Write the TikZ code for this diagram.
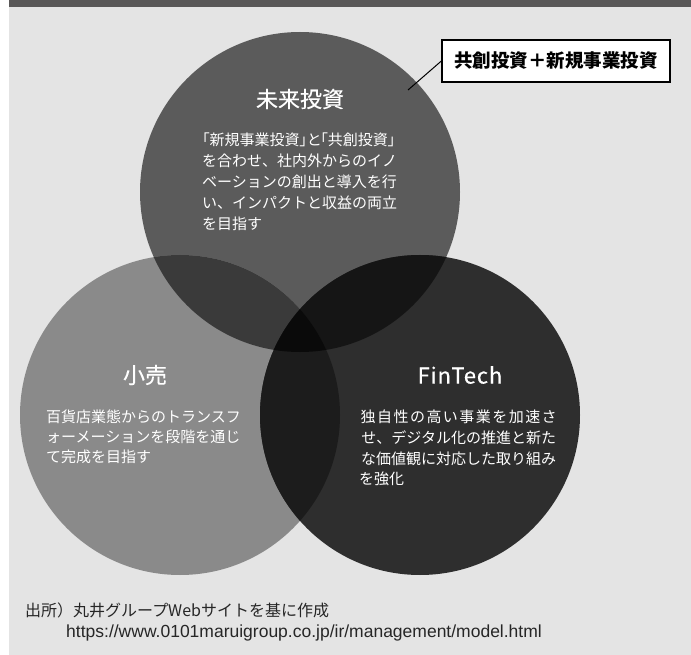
\documentclass[tikz,border=0pt]{standalone}
\usepackage{fontspec}
\newfontfamily\jp{Noto Sans CJK JP}
\newfontfamily\jpmed[FakeBold=0.4]{Noto Sans CJK JP}
\newfontfamily\srcfont{Liberation Sans}
\definecolor{bgcol}{HTML}{E4E4E4}
\definecolor{barcol}{HTML}{595757}
\definecolor{cTop}{HTML}{5B5B5B}
\definecolor{cLeft}{HTML}{8A8A8A}
\definecolor{cRight}{HTML}{2E2E2E}
\definecolor{cTL}{HTML}{3A3A3A}
\definecolor{cTR}{HTML}{151515}
\definecolor{cLR}{HTML}{1C1C1C}
\definecolor{cTLR}{HTML}{0A0A0A}
\tikzset{
  title/.style={inner sep=0pt, text=white, font=\jpmed\fontsize{22}{26}\selectfont},
  body/.style={inner sep=0pt, anchor=west, text=white, font=\jp\fontsize{15}{18}\selectfont},
  note/.style={inner sep=0pt, anchor=west, text=black!85, font=\jp\fontsize{16}{19}\selectfont},
  labelbox/.style={draw=black, line width=1.3pt, fill=white, inner sep=0pt, minimum width=228pt, minimum height=42pt, font=\jp\bfseries\fontsize{18.5}{22}\selectfont},
}
\begin{document}
\begin{tikzpicture}[x=1pt,y=-1pt]
\useasboundingbox (0,0) rectangle (691,655);
\fill[white] (0,0) rectangle (691,655);
\fill[bgcol] (9,0) rectangle (691,655);
\fill[barcol] (9,0) rectangle (691,7);
\coordinate (T) at (300,192);
\coordinate (L) at (180,415);
\coordinate (R) at (420,415);
\def\rad{160pt}
\fill[cTop] (T) circle[radius=\rad];
\fill[cLeft] (L) circle[radius=\rad];
\fill[cRight] (R) circle[radius=\rad];
\begin{scope}\clip (T) circle[radius=\rad]; \fill[cTL] (L) circle[radius=\rad];\end{scope}
\begin{scope}\clip (T) circle[radius=\rad]; \fill[cTR] (R) circle[radius=\rad];\end{scope}
\begin{scope}\clip (L) circle[radius=\rad]; \fill[cLR] (R) circle[radius=\rad];\end{scope}
\begin{scope}\clip (T) circle[radius=\rad]; \clip (L) circle[radius=\rad]; \fill[cTLR] (R) circle[radius=\rad];\end{scope}
% top circle text
\node[title] (ttop) at (300,99) {未来投資};
\node[body] (t1) at (202,140) {\addfontfeature{RawFeature=+palt}「新規事業投資」と「共創投資」};
\node[body] (t2) at (202,161) {を合わせ、社内外からのイノ};
\node[body] (t3) at (202,182) {ベーションの創出と導入を行};
\node[body] (t4) at (202,203) {い、インパクトと収益の両立};
\node[body] (t5) at (202,224) {を目指す};
% left circle text
\node[title] (tleft) at (145,375) {小売};
\node[body] (l1) at (46,417) {百貨店業態からのトランスフ};
\node[body] (l2) at (46,437) {ォーメーションを段階を通じ};
\node[body] (l3) at (46,457) {て完成を目指す};
% right circle text
\node[title] (tright) at (460,375) {\addfontfeature{LetterSpace=4}FinTech};
\node[body] (r1) at (359,417) {\makebox[199pt]{独\hfil 自\hfil 性\hfil の\hfil 高\hfil い\hfil 事\hfil 業\hfil を\hfil 加\hfil 速\hfil さ}};
\node[body] (r2) at (359,438) {\makebox[199pt]{せ、デジタル化の推進と新た}};
\node[body] (r3) at (359,459) {\makebox[199pt]{な価値観に対応した取り組み}};
\node[body] (r4) at (359,479) {を強化};
% label
\node[labelbox] (lab) at (556,61) {共創投資＋新規事業投資};
\coordinate (tip) at (408,90);
\draw[line width=1pt] (lab.west) -- (tip);
% source
\node[note] (src1) at (25,610) {出所）丸井グループWebサイトを基に作成};
\node[note] (src2) at (66,633) {\srcfont\fontsize{17.5}{20}\selectfont https://www.0101maruigroup.co.jp/ir/management/model.html};
\end{tikzpicture}
\end{document}
